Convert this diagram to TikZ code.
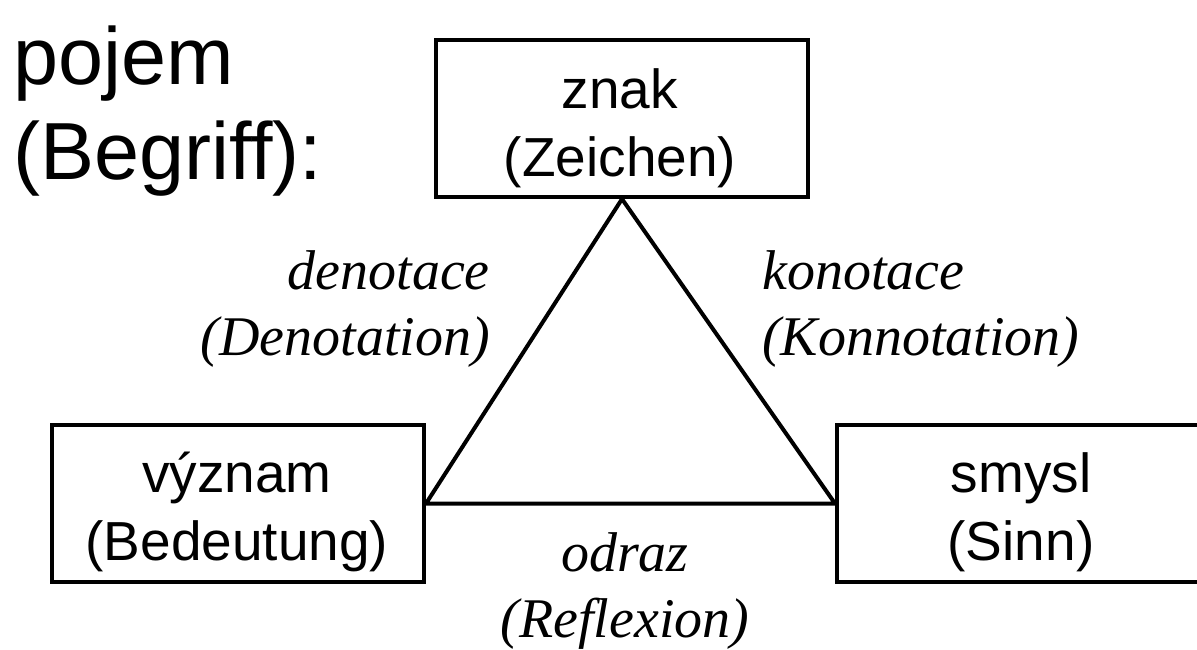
\documentclass[tikz,border=0pt]{standalone}
\usepackage{fontspec}
\setmainfont{Liberation Sans}
\newfontfamily\edgefont{Liberation Serif}
\begin{document}
\begin{tikzpicture}[x=1bp,y=-1bp,
  box/.style={draw,line width=4bp,minimum width=372bp,minimum height=157bp,inner sep=0pt},
  boxtext/.style={font=\fontsize{55bp}{68bp}\selectfont,align=center,inner sep=0pt,anchor=base},
  title/.style={font=\fontsize{81bp}{95bp}\selectfont,align=left,inner sep=0pt,anchor=base west},
  edgelabel/.style={font=\edgefont\itshape\fontsize{56bp}{66bp}\selectfont,inner sep=0pt},
  side/.style={line width=4bp,line join=miter}]
  \useasboundingbox (0,0) rectangle (1197,650);
  \clip (0,0) rectangle (1197,650);

  % heading (base anchor sits on the last line)
  \node[title] (pojem) at (13,180) {pojem\\(Begriff):};

  % the three corners of the triangle
  \node[box] (znak)   at (622,118.5) {};
  \node[box] (vyznam) at (238,503.5) {};
  \node[box] (smysl)  at (1023,503.5) {};

  \node[boxtext] (znakT)   at (620,177)  {znak\\(Zeichen)};
  \node[boxtext] (vyznamT) at (237,560)  {význam\\(Bedeutung)};
  \node[boxtext] (smyslT)  at (1021,560) {smysl\\(Sinn)};

  % triangle
  \draw[side] (znak.south) -- (vyznam.east) -- (smysl.west) -- cycle;

  % side labels
  \node[edgelabel,align=right,anchor=base east] (den) at (490,355) {denotace\\(Denotation)};
  \node[edgelabel,align=left,anchor=base west]  (kon) at (762,355) {konotace\\(Konnotation)};
  \node[edgelabel,align=center,anchor=base]     (odr) at (625,637) {odraz\\(Reflexion)};
\end{tikzpicture}
\end{document}
